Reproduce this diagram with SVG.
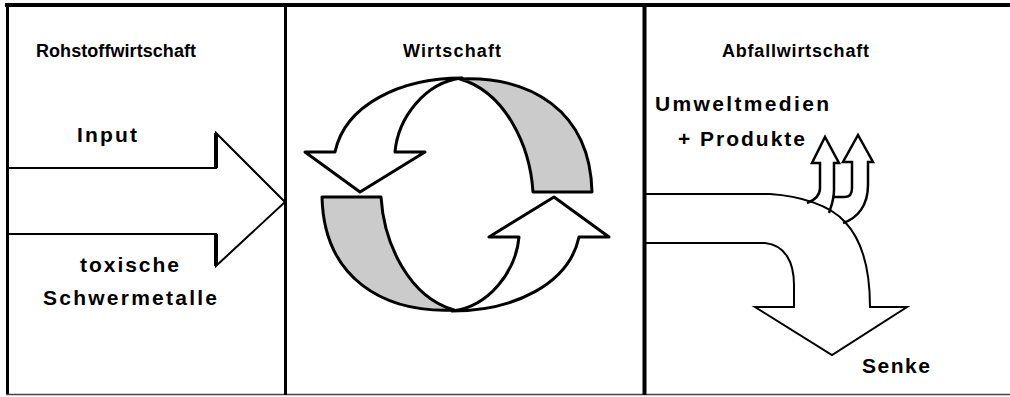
<svg xmlns="http://www.w3.org/2000/svg" width="1010" height="397" viewBox="0 0 1010 397">
<style>
.t{font-family:"Liberation Sans",Arial,sans-serif;font-weight:bold;fill:#000}
.h{font-size:18px}
.b{font-size:21px}
.ln{fill:none;stroke:#000;stroke-linejoin:miter}
.band{stroke:#000;stroke-width:3;stroke-linejoin:round}
</style>
<rect width="1010" height="397" fill="#fff"/>
<g id="frame" fill="none" stroke="#000">
<line x1="5" y1="5" x2="1010" y2="5" stroke-width="4"/>
<line x1="7.5" y1="3" x2="7.5" y2="395" stroke-width="3"/>
<line x1="6" y1="394.5" x2="1010" y2="394.5" stroke-width="1.5" stroke="#444"/>
<line x1="285.5" y1="5" x2="285.5" y2="395" stroke-width="3"/>
<line x1="644.5" y1="5" x2="644.5" y2="395" stroke-width="4"/>
</g>
<g id="headings">
<text class="t h" x="36" y="57" textLength="160" lengthAdjust="spacing">Rohstoffwirtschaft</text>
<text class="t h" x="403" y="57" textLength="98" lengthAdjust="spacing">Wirtschaft</text>
<text class="t h" x="722" y="57" textLength="147" lengthAdjust="spacing">Abfallwirtschaft</text>
</g>
<g id="input-arrow">
<path class="ln" stroke-width="2" d="M9 168 H216 V133 L285 202 L216 266 V234 H9"/>
<path class="ln" stroke-width="4" d="M216 168 V133 M216 266 V234"/>
<text class="t b" x="77" y="142" textLength="60" lengthAdjust="spacing">Input</text>
<text class="t b" x="80" y="272" textLength="99" lengthAdjust="spacing">toxische</text>
<text class="t b" x="43" y="305" textLength="174" lengthAdjust="spacing">Schwermetalle</text>
</g>
<g id="cycle">
<g id="upper-arrow">
<path class="band" fill="#cbcbcb" d="M460 79 C530 76 590 110 592 192 L533 192 C530 145 505 92 460 79 Z"/>
<path class="band" fill="#fff" stroke-linejoin="miter" d="M462 78 C400 78 345 105 335 152 L305 152 L360 192 L425 152 L395 152 C398 118 425 82 462 78 Z"/>
</g>
<g id="lower-arrow" transform="rotate(180 457 194.5)">
<path class="band" fill="#cbcbcb" d="M460 79 C530 76 590 110 592 192 L533 192 C530 145 505 92 460 79 Z"/>
<path class="band" fill="#fff" stroke-linejoin="miter" d="M462 78 C400 78 345 105 335 152 L305 152 L360 192 L425 152 L395 152 C398 118 425 82 462 78 Z"/>
</g>
</g>
<g id="waste-arrow">
<path class="ln" stroke-width="2" d="M646 194 H770 C800 196 830 205 845 222 C862 240 870 270 870 307 H907 L832 355 L755 307 H794 V285 C794 262 785 245 765 243 H646"/>
<path class="ln" stroke-width="2.5" d="M807 203 C815 200 820 195 820 188 V163 H812 L825 137 L839 163 H834 V190 C834 200 831 207 829 213"/>
<path class="ln" stroke-width="2.5" d="M834 197 H845 C850 197 852 193 852 188 V162 H843 L858 135 L873 162 H868 V185 C868 205 858 218 843 223"/>
<text class="t b" x="655" y="111" textLength="174" lengthAdjust="spacing">Umweltmedien</text>
<text class="t b" x="678" y="146" textLength="127" lengthAdjust="spacing">+ Produkte</text>
<text class="t b" x="862" y="373" textLength="68" lengthAdjust="spacing">Senke</text>
</g>
</svg>
